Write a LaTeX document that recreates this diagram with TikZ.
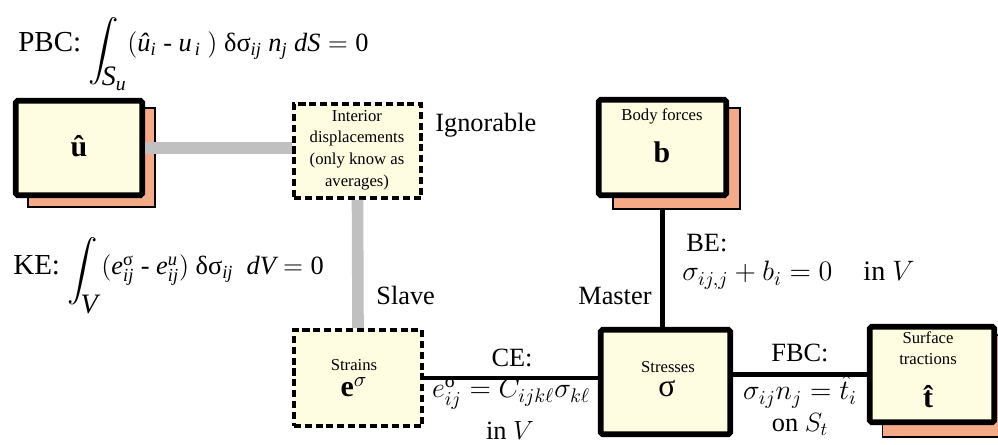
\RequirePackage{fix-cm}
\documentclass[tikz,border=0pt]{standalone}
\usepackage{amsmath}
\usepackage{fontspec}
\setmainfont{Liberation Serif}
\usetikzlibrary{positioning}
\definecolor{paleyellow}{RGB}{255,253,225}
\definecolor{salmon}{RGB}{245,170,135}
\definecolor{linkgray}{RGB}{192,192,192}
\newcommand{\tim}[1]{\textit{#1}}
\newcommand{\bigint}[3]{\raisebox{-#3}{\fontsize{16}{18}\selectfont$\displaystyle\int_{\text{\fontsize{16}{18}\selectfont\kern-2pt\raisebox{-#2}{\tim{#1}}}}$}}

\begin{document}
\begin{tikzpicture}[x=0.02cm, y=-0.02cm,
    solidbox/.style={draw, line width=3.2pt, rounded corners=1pt, fill=paleyellow},
    dashbox/.style={draw, line width=2pt, dash pattern=on 4pt off 2.2pt, fill=paleyellow},
    shadowbox/.style={draw, line width=0.6pt, fill=salmon},
    smalltext/.style={font=\fontsize{9.5}{12.3}\selectfont, align=center, inner sep=0pt},
    bigsym/.style={font=\fontsize{17}{20}\selectfont\bfseries, inner sep=0pt},
    bigtext/.style={font=\fontsize{15}{18}\selectfont, inner sep=0pt},
    eqtext/.style={font=\fontsize{16.5}{19}\selectfont, inner sep=0pt},
    mathtext/.style={font=\fontsize{16}{19}\selectfont, inner sep=0pt},
    graylink/.style={linkgray, line width=6.6pt},
    blacklink/.style={line width=2.3pt}]
    \useasboundingbox (0,0) rectangle (998,445);

    % boxes with shadows
    \node[shadowbox, minimum width=2.54cm, minimum height=1.98cm] (ushadow) at (91.5,157.5) {};
    \node[solidbox, minimum width=2.53cm, minimum height=1.89cm] (ubox) at (79,148) {};
    \node[bigsym, anchor=base] (usym) at (79,157) {û};

    \node[shadowbox, minimum width=2.54cm, minimum height=2.02cm] (bshadow) at (676.5,158.5) {};
    \node[solidbox, minimum width=2.55cm, minimum height=1.91cm] (bforce) at (662.5,147.5) {};
    \node[smalltext, anchor=base] (bforcetext) at (662,121) {Body forces};
    \node[bigsym, anchor=base] (bsym) at (662,163) {b};

    \node[shadowbox, minimum width=2.54cm, minimum height=2.04cm] (tshadow) at (946,386) {};
    \node[solidbox, minimum width=2.49cm, minimum height=1.91cm] (traction) at (932,374.5) {};
    \node[smalltext, anchor=base] (tractiontext) at (928,365) {Surface\\tractions};
    \node[bigsym, anchor=base] (tsym) at (928,408) {\^{t}};

    \node[solidbox, minimum width=2.59cm, minimum height=2.09cm] (stresses) at (665.5,382) {};
    \node[smalltext, anchor=base] (stressestext) at (668,373) {Stresses};
    \node[bigsym, anchor=base, font=\fontsize{18}{20}\selectfont] (stressessym) at (667,397) {σ};

    % dashed boxes
    \node[dashbox, minimum width=2.55cm, minimum height=1.89cm] (interior) at (357.5,151) {};
    \node[smalltext] (interiortext) at (357,150) {Interior\\displacements\\(only know as\\averages)};

    \node[dashbox, minimum width=2.57cm, minimum height=1.93cm] (strains) at (358,378) {};
    \node[smalltext, anchor=base] (strainstext) at (354,371) {Strains};
    \node[bigsym, anchor=base] (strainssym) at (354,397) {e$^{\sigma}$};

    % connectors
    \draw[graylink] (ubox.east) -- (ubox.east -| interior.west);
    \draw[graylink] (interior.south) -- (strains.north);
    \draw[blacklink] (bforce.south |- bshadow.south) -- (bforce.south |- stresses.north);
    \draw[blacklink] (strains.east) -- (strains.east -| stresses.west);
    \draw[blacklink] (traction.west) -- (traction.west -| stresses.east);

    % equations and labels
    \node[eqtext, anchor=base west] (pbc) at (18,52) {PBC: \bigint{S\textsubscript{u}}{0pt}{3.5pt}{\fontsize{15}{18}\selectfont$(\tim{û}_{\tim{i}}\ \text{-}\ \tim{u}_{\,\tim{i}}\ )\ \text{δσ}_{\tim{ij}}\ \tim{n}_{\tim{j}}\ \tim{dS}=\text{0}$}};
    \node[eqtext, anchor=base west] (ke) at (13,275) {KE: \bigint{V}{4pt}{2pt}{\fontsize{15}{18}\selectfont$(\tim{e}^{\text{σ}}_{\tim{ij}}\ \text{-}\ \tim{e}^{\tim{u}}_{\tim{ij}})\ \text{δσ}_{\tim{ij}}\ \ \tim{dV}=\text{0}$}};
    \node[bigtext, anchor=base west] (ignorable) at (435,132) {Ignorable};
    \node[bigtext, anchor=base west] (slave) at (376,305) {Slave};
    \node[bigtext, anchor=base west] (master) at (578,305) {Master};

    \node[bigtext, anchor=base west] (betext) at (686,252) {BE:};
    \node[mathtext, anchor=base west] (beeq) at (682,281) {$\sigma_{ij,j}+b_i=0$\hspace{1.1em}in $V$};

    \node[bigtext, anchor=base] (cetext) at (512,367) {CE:};
    \node[mathtext, anchor=base] (ceeq) at (511,398) {$e^{\text{σ}}_{ij}=C_{ijk\ell}\sigma_{k\ell}$};
    \node[bigtext, anchor=base] (cein) at (510,440) {in $V$};

    \node[bigtext, anchor=base] (fbctext) at (800,362) {FBC:};
    \node[mathtext, anchor=base] (fbceq) at (800,400) {$\sigma_{ij}n_j=\hat{t}_i$};
    \node[bigtext, anchor=base] (fbcon) at (800,432) {on $S_t$};
\end{tikzpicture}
\end{document}
